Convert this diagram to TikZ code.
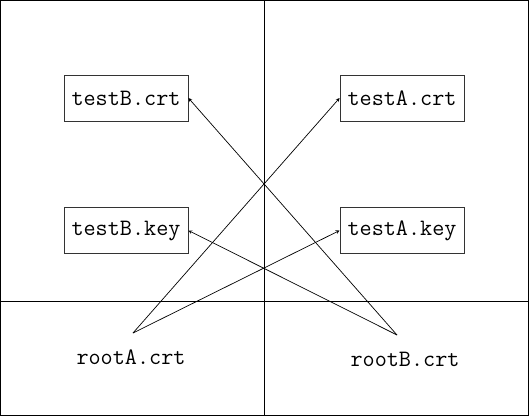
\documentclass[tikz,border=0pt]{standalone}
\usetikzlibrary{arrows}
\tikzstyle{certbox} = [rectangle, minimum width=124pt, minimum height=46pt, text centered, draw=black!80, line width=0.8pt, font=\ttfamily\fontsize{23.5}{26}\selectfont]
\tikzstyle{rootlabel} = [font=\ttfamily\fontsize{23.5}{26}\selectfont]
\tikzstyle{arrow} = [line width=0.7pt,->,>=stealth]
\tikzstyle{grid} = [line width=0.8pt, black]

\begin{document}
\begin{tikzpicture}[x=1pt, y=1pt]

% Frame and quadrants
\useasboundingbox (0,0) rectangle (529,416);
\draw [grid] (0.5,0.5) rectangle (528.5,415.5);
\draw [grid] (264,0.5) -- (264,415.5);
\draw [grid] (0.5,115) -- (528.5,115);

% Certificates and keys
\node (testBcrt) [certbox] at (126,318) {testB.crt};
\node (testAcrt) [certbox] at (402,318) {testA.crt};
\node (testBkey) [certbox] at (126,185.5) {testB.key};
\node (testAkey) [certbox] at (402,185.5) {testA.key};

% Root certificates
\node (rootA) [rootlabel] at (131,59) {rootA.crt};
\node (rootB) [rootlabel] at (405,57) {rootB.crt};
\coordinate (rootAtip) at (133,83);
\coordinate (rootBtip) at (397,81);

% Arrows from rootA
\draw [arrow] (rootAtip) -- (testAcrt.west);
\draw [arrow] (rootAtip) -- (testAkey.west);

% Arrows from rootB
\draw [arrow] (rootBtip) -- (testBcrt.east);
\draw [arrow] (rootBtip) -- (testBkey.east);

\end{tikzpicture}
\end{document}
